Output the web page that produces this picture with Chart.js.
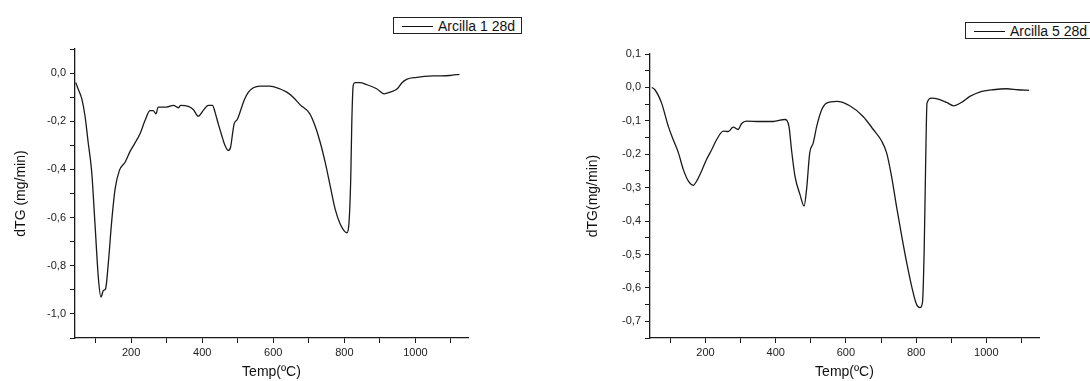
<!DOCTYPE html>
<html>
<head>
<meta charset="utf-8">
<script src="https://cdn.jsdelivr.net/npm/chart.js@4.4.1/dist/chart.umd.min.js"></script>
<style>
  body { margin: 0; background: #fff; width: 1090px; height: 381px; overflow: hidden; position: relative; font-family: "Liberation Sans", Arial, sans-serif; }
  canvas { position: absolute; top: 0; }
  .legend { position: absolute; border: 1px solid #222; background: #fff; font-size: 14px; color: #111; height: 17px; line-height: 17px; white-space: nowrap; box-sizing: border-box; }
  .legend span.ln { display: inline-block; width: 31px; height: 0; border-top: 1px solid #111; vertical-align: middle; margin: 0 5px 0 8px; position: relative; top: -1px; }
</style>
</head>
<body>
<canvas id="chartA" width="545" height="381" style="left:0"></canvas>
<canvas id="chartB" width="545" height="381" style="left:545px"></canvas>
<div class="legend" style="left:393px; top:17px; width:129px;"><span class="ln"></span>Arcilla 1 28d</div>
<div class="legend" style="left:965px; top:22px; width:140px;"><span class="ln"></span>Arcilla 5 28d</div>
<script>
// Arcilla 1 28d
var tempA = [44, 52, 61, 70, 79, 89, 98, 108, 115, 122, 128, 136, 145, 155, 167, 183, 197, 211, 225, 239, 253, 262, 270, 276, 300, 319, 333, 339, 361, 375, 389, 403, 417, 429, 436, 445, 455, 464, 473, 480, 486, 490, 499, 508, 518, 530, 544, 563, 589, 600, 638, 656, 675, 703, 717, 732, 746, 760, 774, 788, 799, 807, 812, 818, 821, 825, 830, 844, 863, 891, 912, 929, 949, 961, 975, 1004, 1050, 1097, 1124];
var dtgA = [-0.039, -0.07, -0.106, -0.176, -0.287, -0.41, -0.62, -0.855, -0.93, -0.903, -0.896, -0.785, -0.62, -0.48, -0.404, -0.37, -0.325, -0.29, -0.252, -0.197, -0.156, -0.156, -0.169, -0.141, -0.141, -0.134, -0.144, -0.134, -0.138, -0.151, -0.179, -0.155, -0.134, -0.134, -0.162, -0.21, -0.259, -0.30, -0.321, -0.307, -0.245, -0.21, -0.192, -0.155, -0.113, -0.079, -0.061, -0.054, -0.054, -0.056, -0.079, -0.10, -0.131, -0.169, -0.217, -0.287, -0.37, -0.467, -0.564, -0.626, -0.654, -0.663, -0.64, -0.439, -0.204, -0.051, -0.04, -0.04, -0.048, -0.065, -0.086, -0.079, -0.065, -0.042, -0.026, -0.018, -0.012, -0.01, -0.005];

// Arcilla 5 28d
var tempB = [47, 56, 75, 94, 108, 123, 137, 151, 165, 175, 189, 203, 218, 232, 251, 265, 279, 293, 303, 317, 355, 393, 426, 438, 445, 455, 469, 481, 488, 497, 507, 517, 531, 545, 574, 611, 649, 678, 702, 716, 730, 744, 759, 773, 787, 801, 811, 818, 823, 827, 831, 844, 863, 887, 907, 929, 953, 981, 1019, 1058, 1090, 1122];
var dtgB = [0.0, -0.007, -0.047, -0.116, -0.156, -0.196, -0.246, -0.28, -0.293, -0.28, -0.25, -0.216, -0.186, -0.156, -0.131, -0.132, -0.119, -0.126, -0.108, -0.101, -0.102, -0.102, -0.096, -0.118, -0.186, -0.266, -0.32, -0.355, -0.305, -0.196, -0.166, -0.116, -0.067, -0.047, -0.042, -0.055, -0.087, -0.126, -0.161, -0.196, -0.266, -0.355, -0.445, -0.524, -0.594, -0.649, -0.659, -0.644, -0.485, -0.236, -0.047, -0.032, -0.035, -0.045, -0.055, -0.045, -0.027, -0.014, -0.007, -0.004, -0.007, -0.009];

var xTicks = [100, 200, 300, 400, 500, 600, 700, 800, 900, 1000, 1100];
var xLabels = [200, 400, 600, 800, 1000];

var ink = '#1a1a1a';
var fontFam = '"Liberation Sans", Arial, sans-serif';

function comma(v) {
  var s = (Math.abs(v) < 1e-9 ? 0 : v).toFixed(1).replace('.', ',');
  return s;
}

function makeChart(id, temps, dtg, opt) {
  var pts = temps.map(function (t, i) { return { x: t, y: dtg[i] }; });
  return new Chart(document.getElementById(id), {
    type: 'line',
    data: {
      datasets: [{
        label: opt.label,
        data: pts,
        borderColor: ink,
        borderWidth: 1.3,
        pointRadius: 0,
        cubicInterpolationMode: 'monotone',
        fill: false,
      }],
    },
    options: {
      responsive: false,
      animation: false,
      layout: { padding: { top: opt.top, right: opt.right, left: 0, bottom: 0 } },
      plugins: { legend: { display: false }, tooltip: { enabled: false } },
      scales: {
        x: {
          type: 'linear',
          min: 42,
          max: opt.xmax,
          afterBuildTicks: function (s) {
            s.ticks = xTicks.map(function (v) { return { value: v }; });
          },
          afterFit: function (s) { s.height = 43; },
          grid: { drawOnChartArea: false, tickLength: 5, color: ink, tickColor: ink },
          border: { color: ink, width: 1.3 },
          ticks: {
            autoSkip: false,
            maxRotation: 0,
            padding: 3,
            color: '#222',
            font: { family: fontFam, size: 11 },
            callback: function (v) { return xLabels.indexOf(v) >= 0 ? String(v) : ''; },
          },
          title: {
            display: true,
            text: 'Temp(ºC)',
            color: '#111',
            padding: { top: 0, bottom: 0 },
            font: { family: fontFam, size: 14 },
          },
        },
        y: {
          min: opt.ymin,
          max: opt.ymax,
          afterBuildTicks: function (s) {
            s.ticks = opt.yTicks.map(function (v) { return { value: v }; });
          },
          afterFit: function (s) { s.width = opt.yWidth; },
          grid: { drawOnChartArea: false, tickLength: 5, color: ink, tickColor: ink },
          border: { color: ink, width: 1.3 },
          ticks: {
            autoSkip: false,
            padding: 4,
            color: '#222',
            font: { family: fontFam, size: 11 },
            callback: function (v) { return opt.yLabels.indexOf(v) >= 0 ? comma(v) : ''; },
          },
          title: {
            display: true,
            text: opt.yTitle,
            color: '#111',
            padding: { top: opt.titlePad, bottom: 0 },
            font: { family: fontFam, size: 14 },
          },
        },
      },
    },
  });
}

var yTicksA = [0.1, 0, -0.1, -0.2, -0.3, -0.4, -0.5, -0.6, -0.7, -0.8, -0.9, -1.0, -1.1];
var yLabelsA = [0, -0.2, -0.4, -0.6, -0.8, -1.0];
var yTicksB = [0.1, 0.05, 0, -0.05, -0.1, -0.15, -0.2, -0.25, -0.3, -0.35, -0.4, -0.45, -0.5, -0.55, -0.6, -0.65, -0.7, -0.75];
var yLabelsB = [0.1, 0, -0.1, -0.2, -0.3, -0.4, -0.5, -0.6, -0.7];

makeChart('chartA', tempA, dtgA, {
  label: 'Arcilla 1 28d', top: 49, right: 77, xmax: 1148,
  ymin: -1.1, ymax: 0.1, yTicks: yTicksA, yLabels: yLabelsA,
  yWidth: 75, yTitle: 'dTG (mg/min)', titlePad: 13,
});

makeChart('chartB', tempB, dtgB, {
  label: 'Arcilla 5 28d', top: 54, right: 51, xmax: 1150,
  ymin: -0.75, ymax: 0.1, yTicks: yTicksB, yLabels: yLabelsB,
  yWidth: 105, yTitle: 'dTG(mg/min)', titlePad: 40,
});
</script>
</body>
</html>
